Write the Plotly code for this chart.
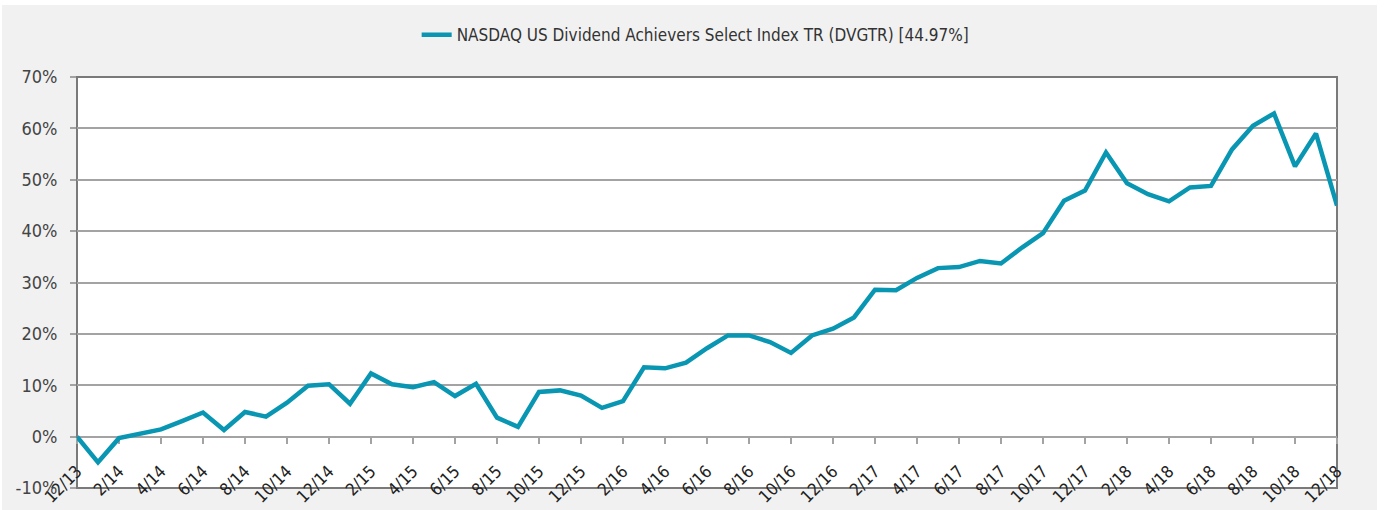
import plotly.graph_objects as go

months = ["12/13",
          "1/14", "2/14", "3/14", "4/14", "5/14", "6/14", "7/14", "8/14", "9/14", "10/14", "11/14", "12/14",
          "1/15", "2/15", "3/15", "4/15", "5/15", "6/15", "7/15", "8/15", "9/15", "10/15", "11/15", "12/15",
          "1/16", "2/16", "3/16", "4/16", "5/16", "6/16", "7/16", "8/16", "9/16", "10/16", "11/16", "12/16",
          "1/17", "2/17", "3/17", "4/17", "5/17", "6/17", "7/17", "8/17", "9/17", "10/17", "11/17", "12/17",
          "1/18", "2/18", "3/18", "4/18", "5/18", "6/18", "7/18", "8/18", "9/18", "10/18", "11/18", "12/18"]

dvgtr = [0.0,
         -5.0, -0.3, 0.5, 1.4, 3.0, 4.7, 1.3, 4.8, 3.9, 6.6, 9.9, 10.2,
         6.4, 12.3, 10.2, 9.6, 10.6, 7.9, 10.3, 3.7, 1.9, 8.7, 9.0, 8.0,
         5.6, 6.9, 13.5, 13.3, 14.4, 17.2, 19.7, 19.7, 18.4, 16.3, 19.7, 21.0,
         23.2, 28.6, 28.5, 30.9, 32.8, 33.0, 34.2, 33.7, 36.8, 39.6, 45.9, 47.9,
         55.3, 49.3, 47.2, 45.8, 48.5, 48.8, 55.9, 60.5, 62.9, 52.6, 59.0, 44.97]

series_name = "NASDAQ US Dividend Achievers Select Index TR (DVGTR) [44.97%]"
tick_labels = months[::2]
y_ticks = [-10, 0, 10, 20, 30, 40, 50, 60, 70]
y_tick_text = [f"{v}%" for v in y_ticks]

FONT = "DejaVu Sans Condensed, DejaVu Sans, sans-serif"
TEAL = "#0896b2"
GRID = "#a3a3a3"

fig = go.Figure()
fig.add_trace(go.Scatter(x=months, y=dvgtr, mode="lines", name=series_name,
                         line=dict(color=TEAL, width=4.5), cliponaxis=False))

fig.update_layout(
    width=1386, height=510,
    margin=dict(l=77, r=49, t=77, b=22, autoexpand=False),
    paper_bgcolor="white", plot_bgcolor="white",
    font=dict(family=FONT, color="#333333"),
    showlegend=True,
    legend=dict(orientation="h", x=0.491, xanchor="center", y=1.102, yanchor="middle",
                font=dict(size=17, color="#333333"), bgcolor="rgba(0,0,0,0)"),
    xaxis=dict(type="category", categoryorder="array", categoryarray=months,
               range=[0, 60], anchor="free", position=0.125, automargin=False,
               tickmode="array", tickvals=tick_labels, ticktext=tick_labels,
               tickangle=-45, tickfont=dict(size=17, color="#222222"),
               ticks="outside", ticklen=6, tickcolor=GRID, tickwidth=2,
               ticklabelstandoff=11, layer="below traces",
               showline=True, linecolor=GRID, linewidth=2,
               showgrid=False, zeroline=False),
    xaxis2=dict(range=[0, 60], overlaying="x", anchor="free", position=0.125,
                tickmode="array", tickvals=list(range(0, 61, 2)), showticklabels=False,
                ticks="inside", ticklen=6, tickcolor=GRID, tickwidth=2,
                layer="below traces",
                showgrid=False, zeroline=False, showline=False),
    yaxis=dict(range=[-10, 70], tickmode="array", tickvals=y_ticks, ticktext=y_tick_text,
               tickfont=dict(size=18, color="#444444"), automargin=False,
               ticks="outside", ticklen=6, tickcolor=GRID, tickwidth=2,
               ticklabelstandoff=9, layer="below traces",
               showgrid=True, gridcolor=GRID, gridwidth=2,
               zeroline=False, showline=False),
    shapes=[
        dict(type="rect", xref="paper", yref="paper", x0=-0.0595, x1=1.0317, y0=-0.06, y1=1.175,
             fillcolor="#f1f1f1", line=dict(width=0), layer="below"),
        dict(type="rect", xref="x domain", yref="y domain", x0=0, x1=1, y0=0, y1=1,
             fillcolor="white", line=dict(width=0), layer="below"),
        dict(type="rect", xref="x domain", yref="y domain", x0=0, x1=1, y0=0, y1=1,
             fillcolor="rgba(0,0,0,0)", line=dict(color="#7a7a7a", width=2), layer="below"),
    ],
)

fig.write_html("out.html",
               config={"displayModeBar": False},
               post_script="document.body.style.margin='0';document.body.style.overflow='hidden';")
